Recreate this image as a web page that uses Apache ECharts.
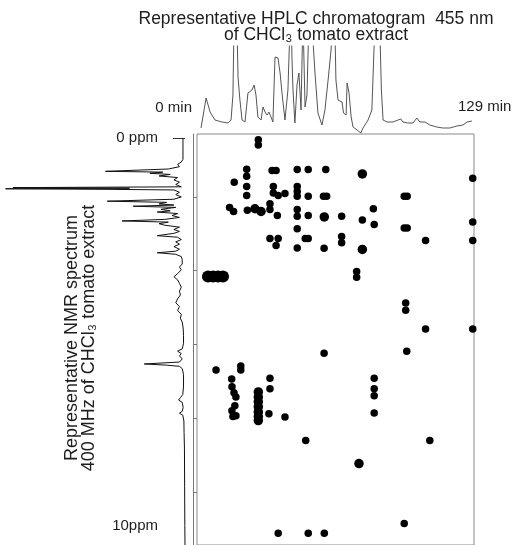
<!DOCTYPE html>
<html>
<head>
<meta charset="utf-8">
<script src="https://cdn.jsdelivr.net/npm/echarts@6/dist/echarts.min.js"></script>
<style>
  html, body { margin: 0; padding: 0; background: #fff; }
  #chart { width: 514px; height: 545px; }
</style>
</head>
<body>
<div id="chart"></div>
<script>
// HPLC chromatogram at 455 nm: retention time (min) and detector signal
const hplcMinutes = [0.9, 3.3, 5.2, 7.5, 10.8, 13.7, 15.1, 16.0, 16.5, 17.2, 17.9, 18.4, 19.3, 20.3, 21.7,
  23.1, 25.0, 26.0, 26.9, 27.8, 29.3, 30.2, 31.2, 32.1, 33.0, 34.0, 34.9, 35.9, 37.3, 38.3, 39.2, 40.6,
  42.0, 43.0, 43.5, 43.9, 44.4, 45.3, 46.3, 47.2, 48.2, 49.1, 50.1, 51.0, 52.0, 53.4, 54.8, 56.2, 58.1,
  59.5, 61.0, 62.4, 63.3, 64.2, 64.7, 65.7, 67.6, 68.3, 69.5, 70.0, 70.9, 71.9, 72.8, 74.7, 76.5, 77.5,
  79.9, 81.7, 82.7, 83.4, 84.3, 85.3, 86.2, 87.0, 88.9, 91.7, 94.1, 95.4, 96.4, 98.7, 101.1, 103.0, 104.4,
  106.8, 109.1, 112.4, 115.3, 118.6, 121.9, 124.8, 126.7, 129.0];
const hplcSignal = [7, 37, 23, 15, 13, 12, 15, 40, 110, 130, 110, 58, 35, 15, 13,
  42, 45, 50, 40, 18, 15, 28, 23, 20, 23, 18, 13, 78, 77, 62, 42, 15,
  45, 110, 125, 78, 45, 12, 50, 62, 25, 120, 28, 40, 120, 110, 62, 22, 10,
  25, 55, 85, 120, 110, 55, 35, 33, 22, 20, 52, 42, 18, 8, 5, 2, 7,
  15, 25, 85, 120, 125, 120, 45, 15, 13, 13, 15, 16, 13, 12, 12, 17, 13,
  13, 10, 8, 7, 7, 9, 10, 13, 14];

// 400 MHz 1H NMR spectrum: chemical shift (ppm) and signal intensity
const nmrPpm = [0, 0.55, 0.62, 0.68, 0.74, 0.80, 0.86, 0.88, 0.91, 0.94, 0.98, 1.02, 1.08, 1.14, 1.20, 1.26,
  1.28, 1.295, 1.31, 1.325, 1.34, 1.40, 1.46, 1.52, 1.58, 1.63, 1.66, 1.70, 1.73, 1.76, 1.79, 1.84, 1.88,
  1.91, 1.95, 2.00, 2.05, 2.10, 2.14, 2.17, 2.21, 2.25, 2.30, 2.36, 2.41, 2.46, 2.52, 2.56, 2.62, 2.68,
  2.74, 2.80, 2.87, 2.92, 2.96, 3.00, 3.06, 3.14, 3.25, 3.33, 3.40, 3.50, 3.58, 3.66, 3.75, 3.85, 3.95,
  4.05, 4.15, 4.25, 4.35, 4.45, 4.55, 4.65, 4.75, 4.90, 5.10, 5.30, 5.44, 5.50, 5.56, 5.62, 5.70, 5.78,
  5.83, 5.86, 5.89, 5.95, 6.10, 6.40, 6.62, 6.70, 6.76, 6.82, 6.95, 7.05, 7.10, 7.15, 7.30, 7.60, 8.00,
  9.00, 10.00, 10.5];
const nmrSignal = [1.1, 1.1, 2, 4, 3, 9, 43, 12, 19, 8, 14, 4, 6, 3, 5, 2,
  93, 30, 97, 40, 6, 3, 5, 2, 6, 42, 10, 14, 6, 28, 5, 13, 8,
  15, 4, 7, 3, 11, 34, 9, 14, 11, 3, 6, 3, 6, 15, 4, 2, 5,
  3, 6, 3, 5, 15, 5, 2, 1.5, 1.5, 3, 2, 4, 6, 4, 3, 2, 3,
  2.5, 4, 5, 3, 4, 2, 2.5, 1.5, 1, 0.8, 0.8, 1.5, 4, 2, 3, 1.5, 3,
  22, 10, 3, 1.5, 0.8, 0.8, 1.2, 2.5, 3.5, 1.5, 1, 1.5, 3, 1.2, 0.6, 0.5, 0.3,
  0.2, 0.1, 0];

// correlation spots: [retention time (min), chemical shift (ppm)]
const spotsSmall = [
  [28.0, 0.05], [28.0, 0.18],
  [22.5, 0.80], [22.5, 0.98], [22.5, 1.24], [22.5, 1.47], [16.6, 1.13],
  [34.5, 0.83], [36.4, 0.83], [46.4, 0.81], [51.6, 0.81], [59.9, 0.81], [129.4, 1.03],
  [35.1, 1.24], [35.1, 1.41], [37.4, 1.47], [40.6, 1.42],
  [46.4, 1.24], [46.4, 1.37], [46.4, 1.49], [51.6, 1.49], [58.8, 1.49], [60.3, 1.49],
  [97.0, 1.49], [98.4, 1.49],
  [14.4, 1.78], [16.3, 1.88], [22.8, 1.85], [33.5, 1.68], [33.5, 1.83], [37.0, 1.98],
  [46.4, 1.83], [46.4, 2.00], [51.6, 1.98], [67.4, 2.00], [77.2, 2.10],
  [82.4, 1.81], [82.8, 2.21], [97.0, 2.30], [98.4, 2.30], [129.4, 2.15], [46.4, 2.32],
  [33.5, 2.57], [37.4, 2.57], [36.4, 2.75], [50.2, 2.57], [51.6, 2.57], [67.4, 2.52], [67.4, 2.68],
  [46.4, 2.81], [59.1, 2.82], [107.1, 2.62], [129.4, 2.62],
  [74.5, 3.41], [74.5, 3.56], [97.7, 4.22], [97.7, 4.40], [107.1, 4.88], [129.4, 4.88],
  [59.1, 5.50], [98.2, 5.45], [8.0, 5.93], [19.7, 5.83], [19.7, 5.93],
  [15.4, 6.16], [15.55, 6.36], [16.5, 6.51], [17.4, 6.62], [16.9, 6.84], [15.5, 6.97], [16.0, 7.12], [17.4, 7.10],
  [33.5, 6.14], [33.5, 6.41], [82.8, 6.14], [82.8, 6.41], [82.8, 6.59],
  [33.0, 7.05], [40.6, 7.13], [82.8, 7.03],
  [50.4, 7.73], [109.1, 7.73], [97.0, 9.85],
  [37.4, 10.10], [51.6, 10.10], [59.2, 10.10]
];
const spotsLarge = [
  [77.2, 0.92], [26.4, 1.81], [29.3, 1.88], [59.2, 2.02], [77.2, 2.85], [75.6, 8.32],
  [28.0, 6.49], [28.0, 6.62], [28.0, 6.74], [28.0, 6.87], [28.0, 7.00], [28.0, 7.12], [28.0, 7.22]
];
const spotsBlob = [[4.2, 3.54], [6.6, 3.54], [9.0, 3.54], [11.3, 3.54]];

// graduation marks on the shift ruler beside the map
const rulerTicks = [1, 2, 3, 4, 5];

const zip = (a, b) => a.map((v, i) => [v, b[i]]);
const FONT = 'Liberation Sans';
const INK = '#1e1e1e';
const spotStyle = { color: '#000', opacity: 1, borderWidth: 0 };

const chart = echarts.init(document.getElementById('chart'), null, { renderer: 'canvas' });

chart.setOption({
  animation: false,
  backgroundColor: '#ffffff',
  grid: [
    { left: 197, top: 46, width: 277, height: 89 },
    { left: 197, top: 134, width: 277, height: 413, show: true, borderColor: '#8a8a8a', borderWidth: 1, backgroundColor: 'transparent' },
    { left: 0, top: 138, width: 185, height: 412.65 },
    { left: 193.5, top: 134, width: 3.5, height: 413 }
  ],
  xAxis: [
    { gridIndex: 0, type: 'value', min: -1, max: 130, show: false },
    { gridIndex: 1, type: 'value', min: -1, max: 130, show: false },
    { gridIndex: 2, type: 'value', min: 0, max: 100, inverse: true, show: false },
    { gridIndex: 3, type: 'value', min: 0, max: 1, show: false }
  ],
  yAxis: [
    { gridIndex: 0, type: 'value', min: 0, max: 89, show: false },
    { gridIndex: 1, type: 'value', min: -0.1, max: 10.4, inverse: true, show: false },
    {
      gridIndex: 2, type: 'value', min: 0, max: 10.5, inverse: true, position: 'right',
      axisLine: { show: false },
      splitLine: { show: false },
      axisTick: { show: true, inside: true, length: 12, customValues: [0], lineStyle: { color: '#333', width: 1 } },
      axisLabel: {
        show: true, inside: true, margin: 27, customValues: [0, 10],
        formatter: v => (v === 0 ? '0 ppm' : '10ppm'),
        fontFamily: FONT, fontSize: 15, color: INK
      }
    },
    {
      gridIndex: 3, type: 'value', min: 0.1483, max: 5.717, inverse: true, position: 'left',
      axisLine: { show: true, lineStyle: { color: '#777', width: 1 } },
      splitLine: { show: false },
      axisLabel: { show: false },
      axisTick: { show: true, inside: true, length: 3.5, customValues: rulerTicks, lineStyle: { color: '#777', width: 1 } }
    }
  ],
  series: [
    {
      name: 'HPLC 455 nm', type: 'line', xAxisIndex: 0, yAxisIndex: 0,
      data: zip(hplcMinutes, hplcSignal), showSymbol: false, clip: true, silent: true,
      lineStyle: { color: '#555', width: 1 }
    },
    {
      name: '1H NMR', type: 'line', xAxisIndex: 2, yAxisIndex: 2,
      data: zip(nmrSignal, nmrPpm), showSymbol: false, clip: true, silent: true,
      lineStyle: { color: '#111', width: 1 }
    },
    {
      name: 'spots', type: 'scatter', xAxisIndex: 1, yAxisIndex: 1,
      data: spotsSmall, symbolSize: 7.5, itemStyle: spotStyle, silent: true
    },
    {
      name: 'spots large', type: 'scatter', xAxisIndex: 1, yAxisIndex: 1,
      data: spotsLarge, symbolSize: 9.5, itemStyle: spotStyle, silent: true
    },
    {
      name: 'spots blob', type: 'scatter', xAxisIndex: 1, yAxisIndex: 1,
      data: spotsBlob, symbolSize: 12, itemStyle: spotStyle, silent: true
    }
  ],
  graphic: [
    { type: 'text', x: 316, y: 19, style: { text: 'Representative HPLC chromatogram  455 nm', font: '17.5px "' + FONT + '"', fill: INK, textAlign: 'center', textVerticalAlign: 'middle' } },
    { type: 'text', x: 316, y: 35, style: { text: 'of CHCl₃ tomato extract', font: '17.5px "' + FONT + '"', fill: INK, textAlign: 'center', textVerticalAlign: 'middle' } },
    { type: 'text', x: 192, y: 108, style: { text: '0 min', font: '15px "' + FONT + '"', fill: INK, textAlign: 'right', textVerticalAlign: 'middle' } },
    { type: 'text', x: 458, y: 107, style: { text: '129 min', font: '15px "' + FONT + '"', fill: INK, textAlign: 'left', textVerticalAlign: 'middle' } },
    { type: 'text', x: 72, y: 338, rotation: Math.PI / 2, style: { text: 'Representative NMR spectrum', font: '18px "' + FONT + '"', fill: INK, textAlign: 'center', textVerticalAlign: 'middle' } },
    { type: 'text', x: 89, y: 338, rotation: Math.PI / 2, style: { text: '400 MHz of CHCl₃ tomato extract', font: '18px "' + FONT + '"', fill: INK, textAlign: 'center', textVerticalAlign: 'middle' } }
  ]
});
</script>
</body>
</html>
